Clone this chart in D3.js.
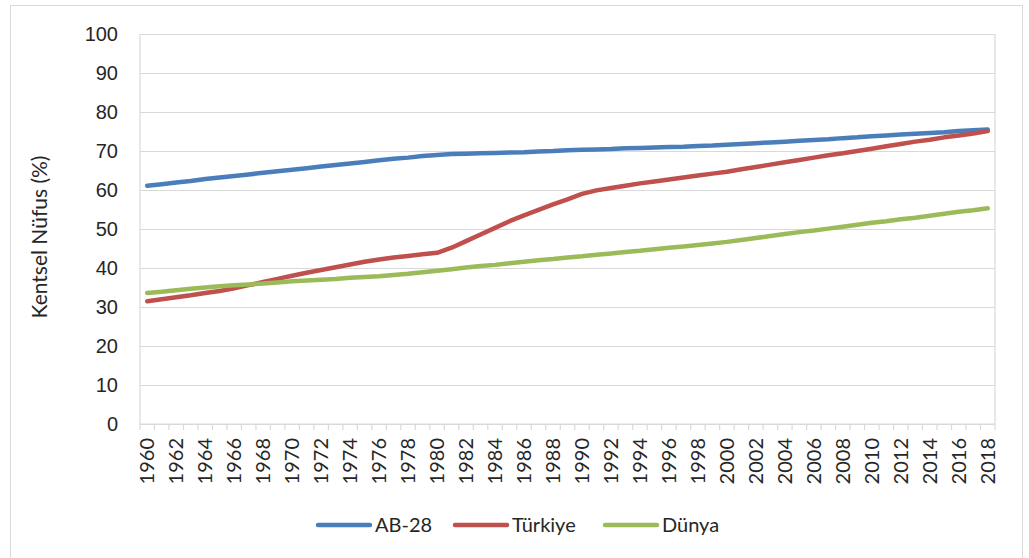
<!DOCTYPE html>
<html>
<head>
<meta charset="utf-8">
<script src="https://cdn.jsdelivr.net/npm/d3@7"></script>
<style>
  html, body { margin: 0; padding: 0; background: #fff; }
  svg { display: block; font-family: Lato, "Open Sans", sans-serif; }
</style>
</head>
<body>
<svg id="chart" width="1029" height="558"></svg>
<script>
// Urban population share (%), 1960–2018
const years = d3.range(1960, 2019);
const yTicks = [0, 10, 20, 30, 40, 50, 60, 70, 80, 90, 100];
const seriesNames = ["AB-28", "Türkiye", "Dünya"];
const seriesColors = ["#4A7EBB", "#C0504D", "#9BBB59"];

const ab28 = [
  61.1, 61.5, 61.9, 62.3, 62.8, 63.2, 63.6, 64.0, 64.4, 64.8,
  65.2, 65.6, 66.0, 66.4, 66.8, 67.2, 67.6, 68.0, 68.3, 68.7,
  69.0, 69.2, 69.3, 69.4, 69.5, 69.6, 69.7, 69.9, 70.0, 70.2,
  70.3, 70.4, 70.5, 70.7, 70.8, 70.9, 71.0, 71.1, 71.3, 71.4,
  71.6, 71.8, 72.0, 72.2, 72.4, 72.6, 72.8, 73.0, 73.3, 73.5,
  73.8, 74.0, 74.2, 74.4, 74.6, 74.8, 75.1, 75.3, 75.5
];
const turkiye = [
  31.5, 32.0, 32.5, 33.0, 33.6, 34.1, 34.8, 35.6, 36.4, 37.2,
  38.0, 38.8, 39.5, 40.2, 40.9, 41.6, 42.2, 42.7, 43.1, 43.5,
  43.9, 45.2, 46.9, 48.6, 50.3, 52.0, 53.5, 54.9, 56.3, 57.6,
  59.0, 59.9, 60.5, 61.1, 61.7, 62.2, 62.7, 63.2, 63.7, 64.2,
  64.7, 65.3, 65.9, 66.5, 67.1, 67.7, 68.3, 68.9, 69.4, 70.0,
  70.6, 71.2, 71.8, 72.4, 72.9, 73.5, 74.0, 74.5, 75.1
];
const dunya = [
  33.6, 33.9, 34.3, 34.7, 35.0, 35.3, 35.6, 35.8, 36.0, 36.3,
  36.6, 36.8, 37.0, 37.2, 37.5, 37.7, 37.9, 38.2, 38.5, 38.9,
  39.3, 39.7, 40.1, 40.5, 40.8, 41.2, 41.6, 42.0, 42.3, 42.7,
  43.0, 43.4, 43.7, 44.1, 44.4, 44.8, 45.2, 45.5, 45.9, 46.3,
  46.7, 47.2, 47.7, 48.2, 48.7, 49.2, 49.6, 50.1, 50.6, 51.1,
  51.6, 52.0, 52.5, 52.9, 53.4, 53.9, 54.4, 54.8, 55.3
];
const seriesValues = [ab28, turkiye, dunya];

const svg = d3.select("#chart");
const plot = { left: 140, right: 995, top: 34, bottom: 424 };
const textColor = "#262626";
const gridColor = "#d9d9d9";

// Outer chart frame
svg.append("rect")
  .attr("x", 10.5).attr("y", 5.5)
  .attr("width", 1012).attr("height", 560)
  .attr("fill", "#fff").attr("stroke", gridColor).attr("stroke-width", 1);

const x = d3.scaleBand().domain(years).range([plot.left, plot.right]).padding(0);
const y = d3.scaleLinear().domain([0, 100]).range([plot.bottom, plot.top]);
const cx = yr => x(yr) + x.bandwidth() / 2;

// Horizontal gridlines and y labels
const yAxis = d3.axisLeft(y)
  .tickValues(yTicks)
  .tickSize(-(plot.right - plot.left))
  .tickPadding(22)
  .tickFormat(d3.format("d"));
const gy = svg.append("g")
  .attr("transform", `translate(${plot.left},0)`)
  .call(yAxis);
gy.select(".domain").remove();
gy.selectAll(".tick line").attr("stroke", gridColor).attr("stroke-width", 1.2);
gy.selectAll(".tick text")
  .attr("fill", textColor).attr("font-size", 20);

// Plot area side borders
[plot.left, plot.right].forEach(px => {
  svg.append("line")
    .attr("x1", px).attr("x2", px)
    .attr("y1", plot.top).attr("y2", plot.bottom)
    .attr("stroke", gridColor).attr("stroke-width", 1.2);
});

// Category axis: tick marks between categories, labels every other year
const gx = svg.append("g").attr("transform", `translate(0,${plot.bottom})`);
gx.append("line")
  .attr("x1", plot.left).attr("x2", plot.right)
  .attr("stroke", gridColor).attr("stroke-width", 1.2);
const boundaries = years.map(yr => x(yr)).concat([x(years[years.length - 1]) + x.bandwidth()]);
gx.selectAll("line.tick-mark")
  .data(boundaries)
  .join("line")
  .attr("class", "tick-mark")
  .attr("x1", d => d).attr("x2", d => d)
  .attr("y1", 0).attr("y2", 6)
  .attr("stroke", gridColor).attr("stroke-width", 1.2);
const labelYears = years.filter(yr => (yr - 1960) % 2 === 0);
gx.selectAll("text.year")
  .data(labelYears)
  .join("text")
  .attr("class", "year")
  .attr("transform", d => `translate(${cx(d) + 7},14) rotate(-90)`)
  .attr("text-anchor", "end")
  .attr("fill", textColor)
  .attr("font-size", 20)
  .text(d => d);

// Y axis title
svg.append("text")
  .attr("transform", `translate(47,${(plot.top + plot.bottom) / 2 + 8}) rotate(-90)`)
  .attr("text-anchor", "middle")
  .attr("fill", textColor)
  .attr("font-size", 21)
  .text("Kentsel Nüfus (%)");

// Series lines
const line = d3.line()
  .x((d, i) => cx(years[i]))
  .y(d => y(d));
seriesValues.forEach((vals, k) => {
  svg.append("path")
    .datum(vals)
    .attr("fill", "none")
    .attr("stroke", seriesColors[k])
    .attr("stroke-width", 4.5)
    .attr("stroke-linecap", "round")
    .attr("stroke-linejoin", "round")
    .attr("d", line);
});

// Legend
const legendY = 525;
const legendItems = [
  { x: 318, name: seriesNames[0], color: seriesColors[0] },
  { x: 455, name: seriesNames[1], color: seriesColors[1] },
  { x: 605, name: seriesNames[2], color: seriesColors[2] }
];
const lg = svg.append("g");
legendItems.forEach(it => {
  lg.append("line")
    .attr("x1", it.x).attr("x2", it.x + 52)
    .attr("y1", legendY).attr("y2", legendY)
    .attr("stroke", it.color).attr("stroke-width", 4.5)
    .attr("stroke-linecap", "round");
  lg.append("text")
    .attr("x", it.x + 57).attr("y", legendY + 7)
    .attr("fill", textColor).attr("font-size", 20)
    .text(it.name);
});
</script>
</body>
</html>
